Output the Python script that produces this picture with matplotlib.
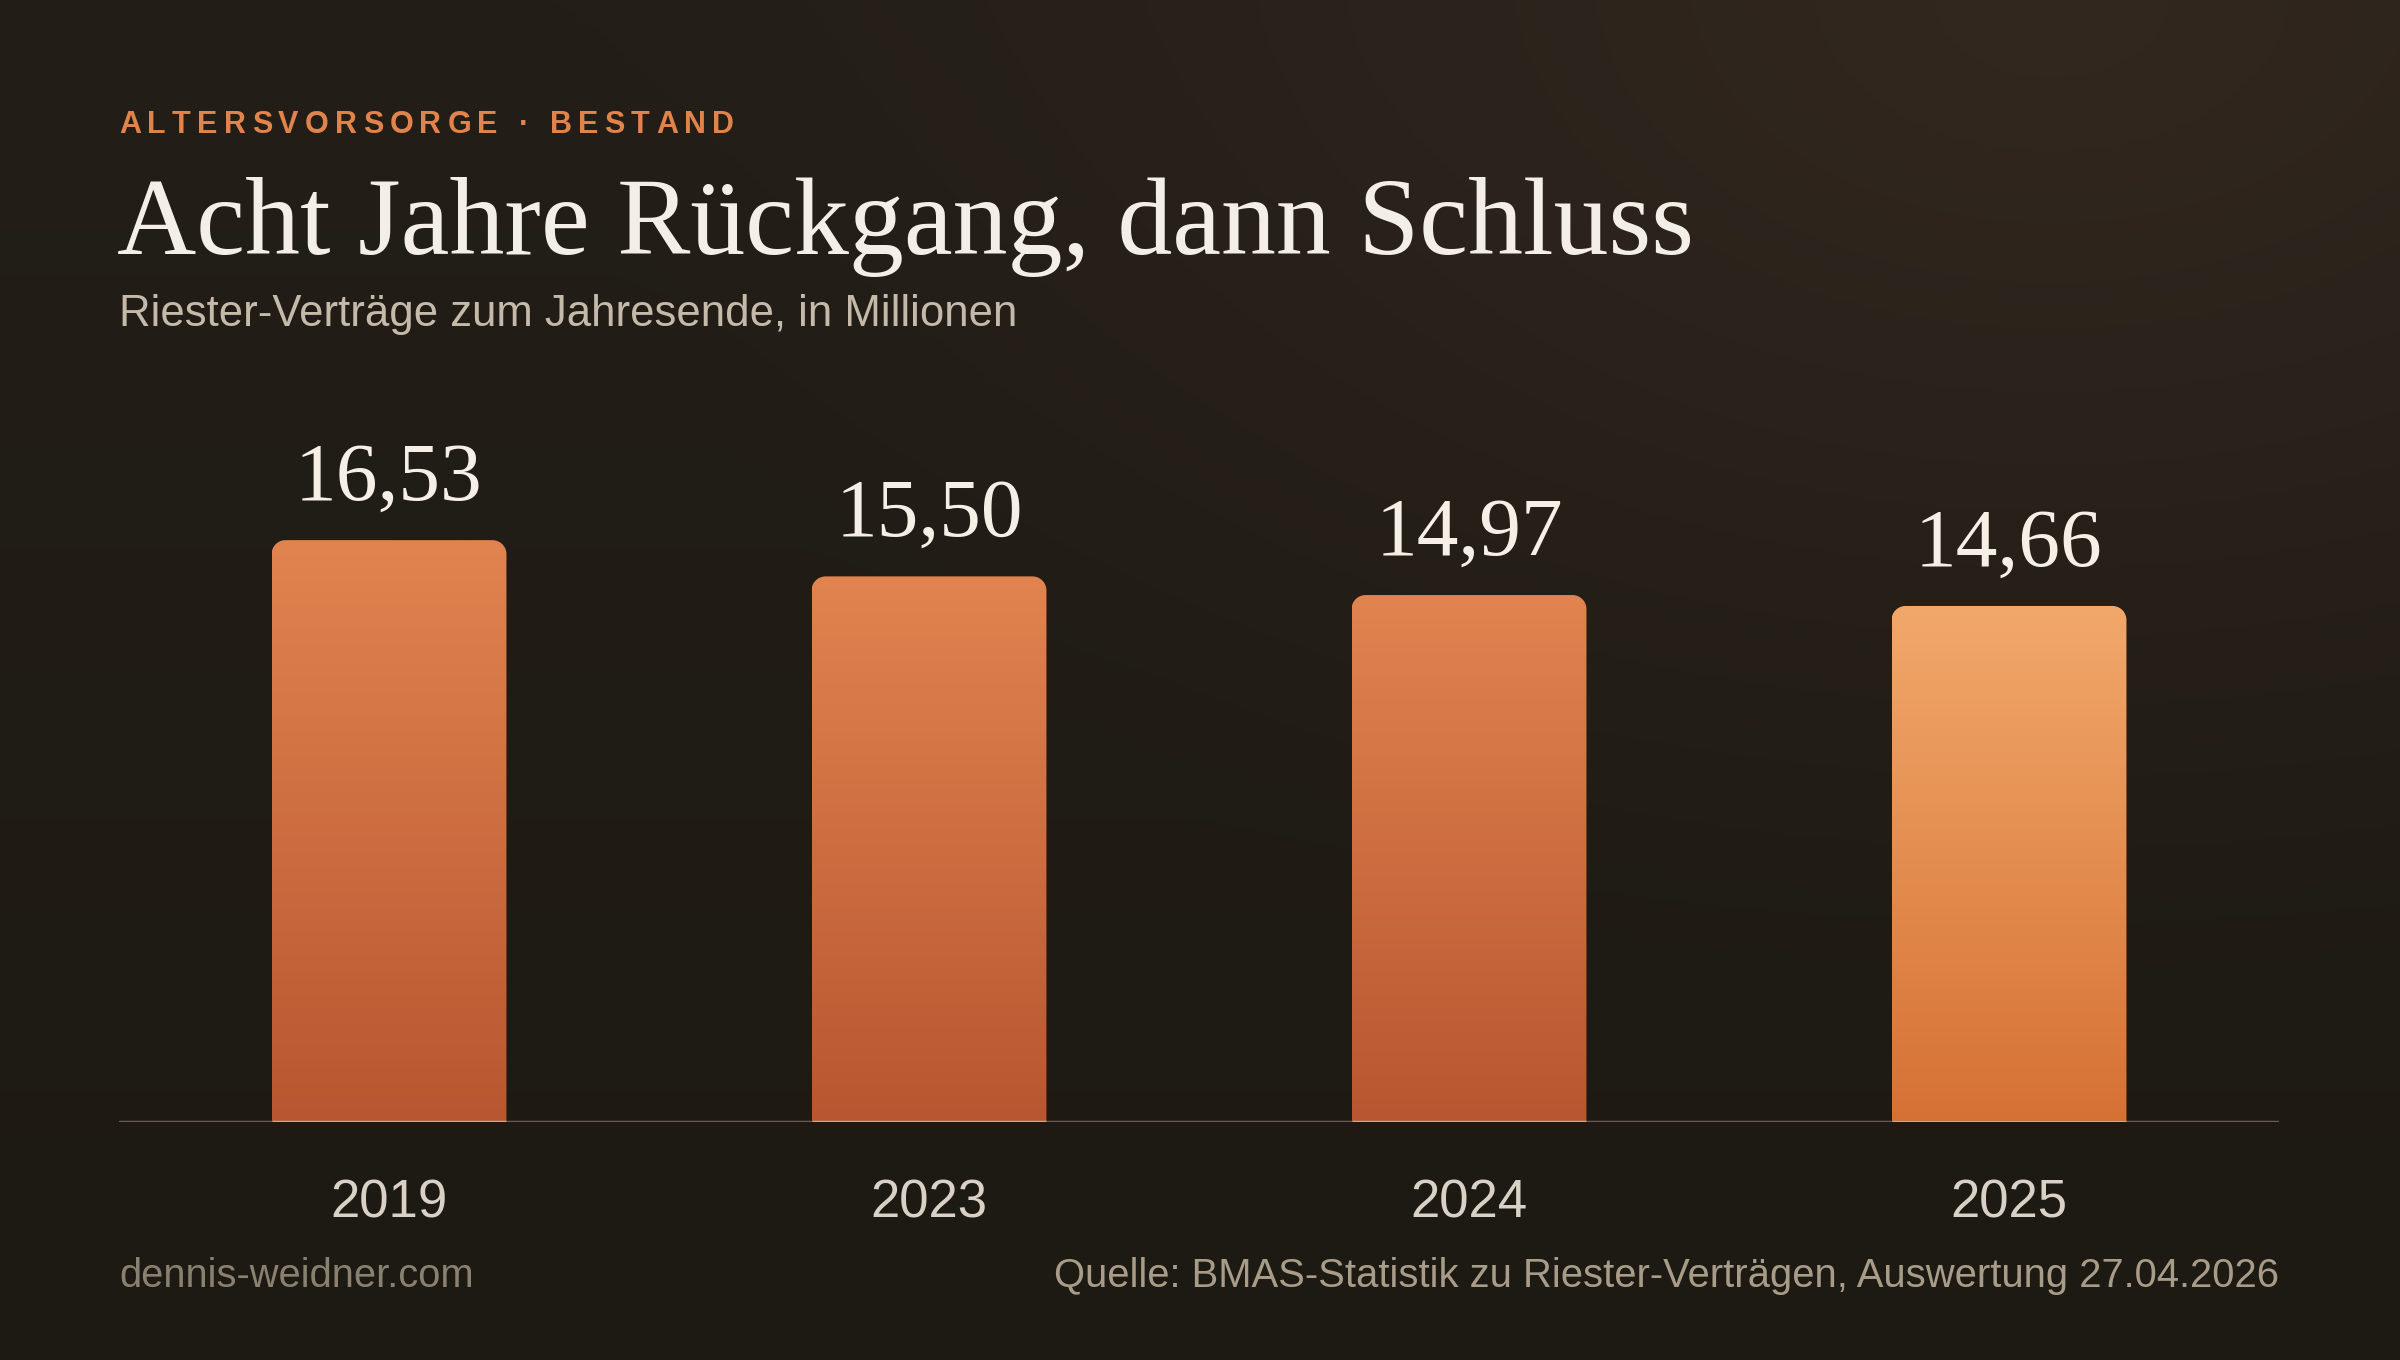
import numpy as np
import matplotlib
matplotlib.use('Agg')
import matplotlib.pyplot as plt
from matplotlib.path import Path
from matplotlib.patches import PathPatch
from matplotlib.font_manager import FontProperties
from matplotlib.colors import to_rgb

# Daten: Riester-Verträge zum Jahresende (Mio.)
jahre = ['2019', '2023', '2024', '2025']
werte = [16.53, 15.50, 14.97, 14.66]
hervorgehoben = [False, False, False, True]

kicker = 'ALTERSVORSORGE · BESTAND'
titel = 'Acht Jahre Rückgang, dann Schluss'
untertitel = 'Riester-Verträge zum Jahresende, in Millionen'
links_unten = 'dennis-weidner.com'
quelle = 'Quelle: BMAS-Statistik zu Riester-Verträgen, Auswertung 27.04.2026'

W, H = 2400, 1360
fig = plt.figure(figsize=(24, 13.6), dpi=100)

# Hintergrund: dunkler Verlauf mit warmem Schimmer oben rechts
yy, xx = np.mgrid[0:H:4, 0:W:4]
basis = np.array(to_rgb('#1d1913'))
oben = np.array(to_rgb('#231e18'))
glanz = np.array(to_rgb('#33281f'))
lin = np.clip(1 - yy / H, 0, 1)[..., None]
bild = basis + (oben - basis) * lin
d = np.sqrt(((xx - 2050) / 1500.0) ** 2 + (yy / 1000.0) ** 2)
t = (np.clip(1 - d, 0, 1) ** 1.3)[..., None]
bild = bild + (glanz - bild) * t
bg = fig.add_axes([0, 0, 1, 1])
bg.imshow(bild, aspect='auto', interpolation='bicubic')
bg.axis('off')

# Diagrammbereich
px_pro_einheit = 35.2
ax = fig.add_axes([119 / W, 1 - 1122 / H, 2160 / W, 722 / H])
ax.patch.set_alpha(0)
for s in ax.spines.values():
    s.set_visible(False)

breite = 0.435
rx = 14 / 540.0
ry = 14 / px_pro_einheit


def oben_rund(x0, x1, h):
    pts = [(x0, 0), (x0, h - ry)]
    for a in np.linspace(np.pi, np.pi / 2, 14):
        pts.append((x0 + rx + rx * np.cos(a), h - ry + ry * np.sin(a)))
    for a in np.linspace(np.pi / 2, 0, 14):
        pts.append((x1 - rx + rx * np.cos(a), h - ry + ry * np.sin(a)))
    pts += [(x1, 0), (x0, 0)]
    return Path(pts, closed=True)


for i, (v, hl) in enumerate(zip(werte, hervorgehoben)):
    x0, x1 = i - breite / 2, i + breite / 2
    if hl:
        c_oben, c_unten = to_rgb('#f2a86b'), to_rgb('#d67134')
    else:
        c_oben, c_unten = to_rgb('#e1844f'), to_rgb('#b85631')
    g = np.linspace(0, 1, 256)[:, None, None]
    farbe = np.array(c_oben) + (np.array(c_unten) - np.array(c_oben)) * g
    patch = PathPatch(oben_rund(x0, x1, v), facecolor='none', edgecolor='none')
    ax.add_patch(patch)
    im = ax.imshow(farbe, extent=[x0, x1, 0, v], aspect='auto', zorder=2)
    im.set_clip_path(patch)
    ax.annotate(f'{v:.2f}'.replace('.', ','), (i, v), xytext=(0, 29),
                textcoords='offset points', ha='center', va='baseline',
                fontsize=60, family='Liberation Serif', color='#f5efe6')
    ax.text(i, -0.132, jahre[i], transform=ax.get_xaxis_transform(),
            ha='center', va='baseline', fontsize=38,
            family='Liberation Sans', color='#d9d1c5')
    ax.plot([x0, x1], [0, 0], color='#e4a07c', lw=2.5, zorder=4,
            solid_capstyle='butt')

ax.axhline(0, color='#675f53', lw=2.5, zorder=3)
ax.set_xlim(-0.5, 3.5)
ax.set_ylim(0, 722 / px_pro_einheit)
ax.set_xticks([])
ax.set_yticks([])

# Kicker mit Sperrung
fig.canvas.draw()
r = fig.canvas.get_renderer()
fp = FontProperties(family='Liberation Sans', weight='bold', size=22)
x = 119.0
for ch in kicker:
    fig.text(x / W, 1 - 133 / H, ch, fontproperties=fp, color='#e0844c',
             va='baseline', ha='left')
    w, _, _ = r.get_text_width_height_descent(ch, fp, ismath=False)
    x += w + 6.2

fig.text(117 / W, 1 - 254 / H, titel, family='Liberation Serif', fontsize=79,
         color='#f3eee6', va='baseline', ha='left')
fig.text(119 / W, 1 - 326 / H, untertitel, family='Liberation Sans',
         fontsize=31.5, color='#c5baa9', va='baseline', ha='left')
fig.text(119 / W, 1 - 1287 / H, links_unten, family='Liberation Sans',
         fontsize=28.7, color='#8a8070', va='baseline', ha='left')
fig.text(2279 / W, 1 - 1287 / H, quelle, family='Liberation Sans',
         fontsize=28.8, color='#a89c88', va='baseline', ha='right')

fig.savefig('out.png', dpi=100)
